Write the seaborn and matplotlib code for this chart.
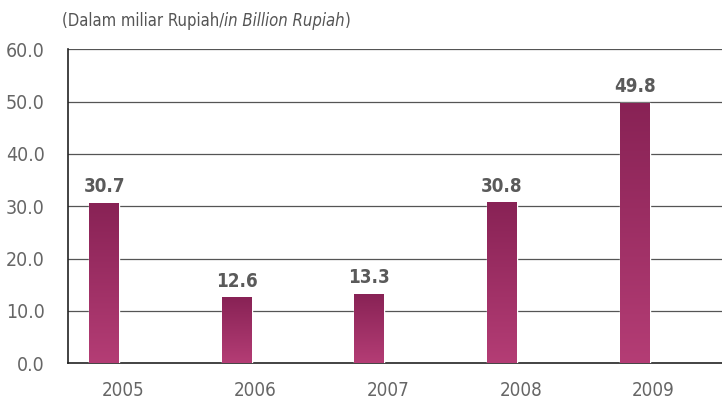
import numpy as np
import pandas as pd
import matplotlib
matplotlib.use("Agg")
import matplotlib.pyplot as plt
import seaborn as sns
from matplotlib.colors import LinearSegmentedColormap

years = ["2005", "2006", "2007", "2008", "2009"]
values = [30.7, 12.6, 13.3, 30.8, 49.8]
yticks = [0, 10, 20, 30, 40, 50, 60]
title_parts = ["(Dalam miliar Rupiah/", "in Billion Rupiah", ")"]

sns.set_theme(style="white")
plt.rcParams["font.family"] = ["DejaVu Sans"]
plt.rcParams["font.stretch"] = "condensed"

W, H = 722, 399
fig = plt.figure(figsize=(W / 100, H / 100), dpi=100)
ax = fig.add_axes([67.7 / W, 35.7 / H, 663 / W, 314.0 / H])

idx = np.arange(len(years))
bar_off = -0.225
lab_off = -0.083
df = pd.DataFrame({"pos": idx + bar_off, "val": values})
sns.barplot(data=df, x="pos", y="val", native_scale=True, width=0.226,
            color="#9c3065", saturation=1, ax=ax, zorder=3)

ax.set_xlim(-0.5, len(years) - 0.5)
ax.set_ylim(0, 60)

# gradient fills
cmap = LinearSegmentedColormap.from_list("g", ["#b43d75", "#882255"])
grad = np.linspace(0, 1, 256).reshape(-1, 1)
for p in ax.patches:
    x0, y0 = p.get_x(), p.get_y()
    w, h = p.get_width(), p.get_height()
    im = ax.imshow(grad, cmap=cmap, origin="lower", aspect="auto",
                   extent=[x0, x0 + w, y0, y0 + h], zorder=4)
    im.set_clip_path(p)
ax.set_xlim(-0.5, len(years) - 0.5)
ax.set_ylim(0, 60)

# value labels
for i, v in enumerate(values):
    ax.annotate(f"{v:.1f}", xy=(i + bar_off, v), xytext=(0, 4.5),
                textcoords="offset points", ha="center", va="bottom",
                fontsize=13.5, fontweight="bold", color="#5a5a5a", zorder=6)

# grid
ax.set_yticks(yticks)
ax.set_yticklabels([f"{t:.1f}" for t in yticks])
for t in yticks[1:]:
    ax.axhline(t, color="#555555", lw=0.9, zorder=1)

ax.set_xticks(np.arange(-0.5, len(years) - 0.4, 1.0))
ax.set_xticklabels([])
ax.set_xticks(idx + lab_off, minor=True)
ax.set_xticklabels(years, minor=True)
ax.tick_params(axis="x", which="major", direction="out", length=4, width=1,
               color="#222222")
ax.tick_params(axis="x", which="minor", length=0, pad=13, labelsize=13.5,
               labelcolor="#666666")
ax.tick_params(axis="y", direction="inout", length=9, width=1, color="#222222",
               pad=12, labelsize=14, labelcolor="#666666")

for s in ["top", "right"]:
    ax.spines[s].set_visible(False)
for s in ["left", "bottom"]:
    ax.spines[s].set_color("#222222")
    ax.spines[s].set_linewidth(1.2)
ax.set_xlabel("")
ax.set_ylabel("")

# title in three parts
fig.canvas.draw()
r = fig.canvas.get_renderer()
x = 62 / W
styles = ["normal", "italic", "normal"]
for part, st in zip(title_parts, styles):
    t = fig.text(x, 1 - 26 / H, part, fontsize=12, style=st, color="#555555",
                 ha="left", va="baseline")
    bb = t.get_window_extent(renderer=r)
    x = (bb.x1) / W

fig.savefig("out.png", dpi=100)
